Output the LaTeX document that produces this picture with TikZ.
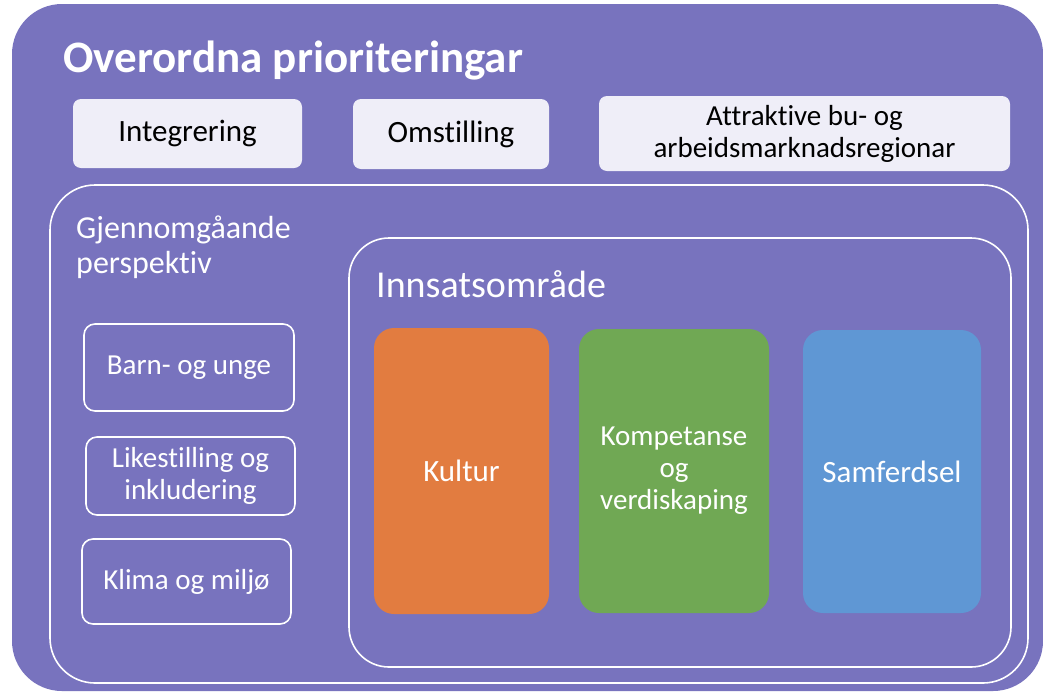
\documentclass[tikz,border=0pt]{standalone}
\usepackage{fontspec}
\setmainfont{Carlito}[Ligatures={NoCommon}]
\usepackage{xcolor}
\definecolor{bgpurple}{RGB}{120,115,190}
\definecolor{prioback}{RGB}{239,238,248}
\definecolor{kulturorange}{RGB}{226,124,64}
\definecolor{kompgreen}{RGB}{112,168,84}
\definecolor{samfblue}{RGB}{95,151,212}

\begin{document}
\begin{tikzpicture}[x=1pt, y=-1pt,
    every node/.style={inner sep=0pt, align=center, font=\fontsize{29}{32}\selectfont},
    prio/.style={fill=prioback, rounded corners=8pt, text=black},
    frame/.style={draw=white, line width=1.6pt},
    perspbox/.style={draw=white, line width=1.6pt, rounded corners=11pt, text=white},
    areabox/.style={rounded corners=20pt, text=white, font=\fontsize{29}{32}\selectfont}]
    \useasboundingbox (0,0) rectangle (1043,691);
    % background
    \fill[bgpurple, rounded corners=50pt] (12,4) rectangle (1043,691);
    \node[anchor=base west, text=white, font=\fontsize{45}{50}\selectfont\bfseries] (title) at (63,72) {Overordna prioriteringar};
    % overordna
    \node[prio, minimum width=229pt, minimum height=69pt, font=\fontsize{31}{34}\selectfont] (integ) at (187.5,133.5) {Integrering};
    \node[prio, minimum width=196pt, minimum height=70pt, font=\fontsize{31}{34}\selectfont] (omst) at (451,134) {Omstilling};
    \node[prio, minimum width=411pt, minimum height=75pt] (attr) at (804.5,133.5) {Attraktive bu- og\\arbeidsmarknadsregionar};
    % frames
    \draw[frame, rounded corners=45pt] (50,185) rectangle (1028,683);
    \draw[frame, rounded corners=40pt] (349,238) rectangle (1011,667);
    \node[anchor=north west, align=left, text=white, font=\fontsize{32}{35}\selectfont] (persp) at (76,216) {Gjennomgåande\\perspektiv};
    \node[anchor=base west, text=white, font=\fontsize{38}{42}\selectfont] (innsats) at (376,297) {Innsatsområde};
    % perspektiv
    \node[perspbox, minimum width=210pt, minimum height=87pt] (barn) at (189,367.5) {Barn- og unge};
    \node[perspbox, minimum width=209pt, minimum height=78pt] (likest) at (190.5,476) {Likestilling og\\inkludering};
    \node[perspbox, minimum width=209pt, minimum height=85pt] (klima) at (186.5,581.5) {Klima og miljø};
    % innsatsomraade
    \node[areabox, fill=kulturorange, minimum width=175pt, minimum height=286pt, font=\fontsize{31}{34}\selectfont] (kultur) at (461.5,471) {Kultur};
    \node[areabox, fill=kompgreen, minimum width=190pt, minimum height=284pt] (komp) at (674,471) {Kompetanse\\og\\verdiskaping};
    \node[areabox, fill=samfblue, minimum width=178pt, minimum height=283pt, font=\fontsize{31}{34}\selectfont] (samf) at (892,471.5) {Samferdsel};
\end{tikzpicture}
\end{document}
